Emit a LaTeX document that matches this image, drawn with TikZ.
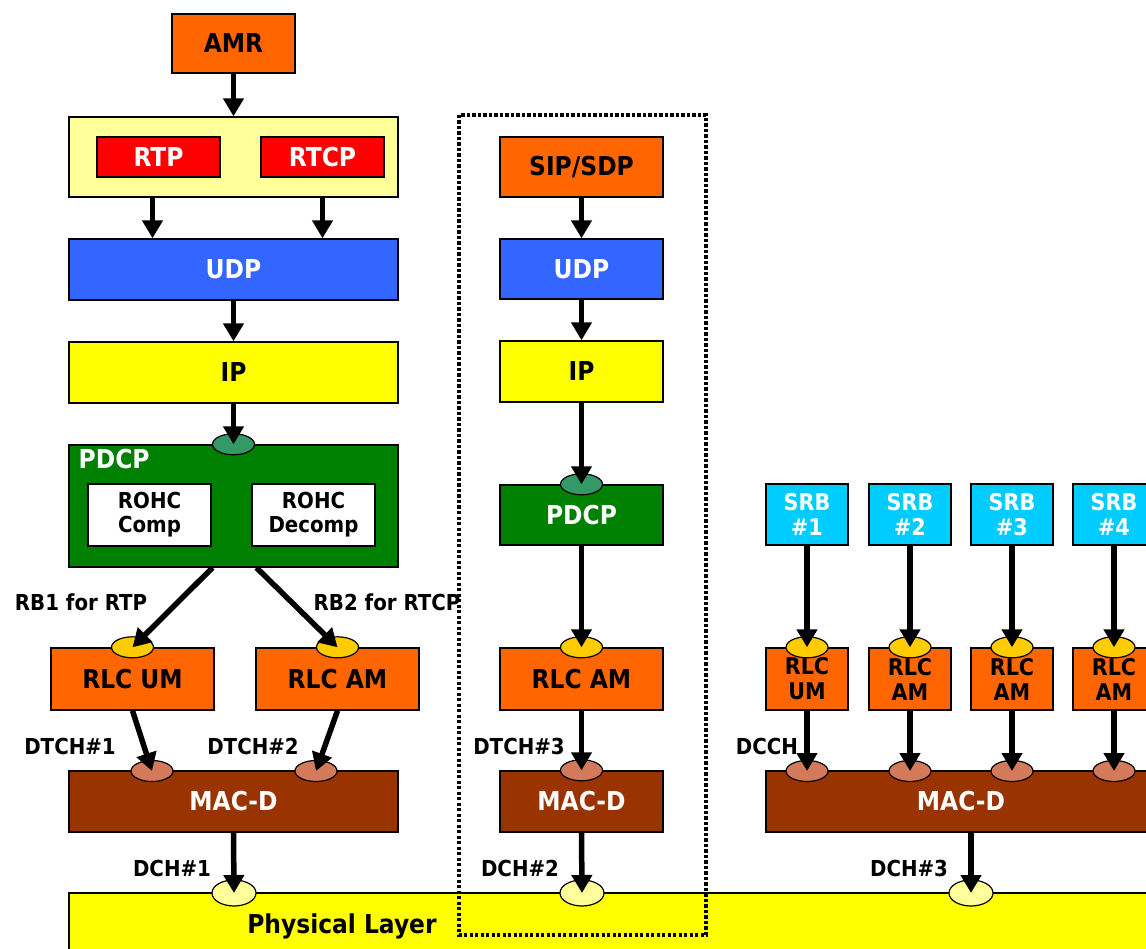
\documentclass[tikz,border=0pt]{standalone}
\usepackage{fontspec}
\setmainfont{DejaVu Sans Condensed}
\usetikzlibrary{arrows.meta,shapes.geometric}

\definecolor{amrorange}{HTML}{FF6600}
\definecolor{rtpyellow}{HTML}{FFFF99}
\definecolor{rtpred}{HTML}{FF0000}
\definecolor{udpblue}{HTML}{3366FF}
\definecolor{ipyellow}{HTML}{FFFF00}
\definecolor{pdcpgreen}{HTML}{008000}
\definecolor{pdcpport}{HTML}{339966}
\definecolor{rlcport}{HTML}{FFCC00}
\definecolor{macbrown}{HTML}{993300}
\definecolor{macport}{HTML}{D27A5A}
\definecolor{srbcyan}{HTML}{00CCFF}

\begin{document}
\begin{tikzpicture}[x=1pt, y=-1pt,
    layer/.style={draw, line width=1.4pt, rectangle, inner sep=0pt, align=center,
      font=\bfseries\fontsize{26}{30}\selectfont},
    small/.style={font=\bfseries\fontsize{22}{26}\selectfont},
    port/.style={draw, ellipse, line width=1.2pt, inner sep=0pt,
      minimum width=42pt, minimum height=21pt},
    flow/.style={line width=5.5pt, -{Triangle[length=18pt,width=20pt]}},
    lbl/.style={font=\bfseries\fontsize{22}{26}\selectfont}]
  \useasboundingbox (0,0) rectangle (1146,949);

  % physical layer
  \node [layer, fill=ipyellow, minimum width=1100pt, minimum height=64pt] (phy) at (619,925) {};
  \node [layer, draw=none] (phytext) at (342,926) {Physical Layer};

  % left stack: AMR over RTP/RTCP
  \node [layer, fill=amrorange, minimum width=123pt, minimum height=59pt] (amr) at (233.5,43.5) {AMR};
  \node [layer, fill=rtpyellow, minimum width=329pt, minimum height=80pt] (rtpgroup) at (233.5,157) {};
  \node [layer, fill=rtpred, text=white, minimum width=123pt, minimum height=40pt] (rtp) at (158.5,157) {RTP};
  \node [layer, fill=rtpred, text=white, minimum width=123pt, minimum height=40pt] (rtcp) at (322.5,157) {RTCP};
  \node [layer, fill=udpblue, text=white, minimum width=329pt, minimum height=61pt] (udpL) at (233.5,269.5) {UDP};
  \node [layer, fill=ipyellow, minimum width=329pt, minimum height=61pt] (ipL) at (233.5,372.5) {IP};
  \node [layer, fill=pdcpgreen, minimum width=329pt, minimum height=122pt] (pdcpL) at (233.5,506) {};
  \node [layer, text=white, anchor=north west, draw=none] (pdcpLtext) at (78,449) {PDCP};
  \node [layer, small, fill=white, minimum width=123pt, minimum height=62pt] (comp) at (149.5,515) {ROHC\\[-2pt]Comp};
  \node [layer, small, fill=white, minimum width=123pt, minimum height=62pt] (decomp) at (313.5,515) {ROHC\\[-2pt]Decomp};
  \node [layer, fill=amrorange, minimum width=163pt, minimum height=62pt] (rlcum) at (132.5,679) {RLC UM};
  \node [layer, fill=amrorange, minimum width=163pt, minimum height=62pt] (rlcam) at (337.5,679) {RLC AM};
  \node [layer, fill=macbrown, text=white, minimum width=329pt, minimum height=61pt] (macL) at (233.5,801.5) {MAC-D};

  % middle stack: signalling
  \node [layer, fill=amrorange, minimum width=163pt, minimum height=60pt] (sip) at (581.5,167) {SIP/SDP};
  \node [layer, fill=udpblue, text=white, minimum width=163pt, minimum height=60pt] (udpM) at (581.5,269) {UDP};
  \node [layer, fill=ipyellow, minimum width=163pt, minimum height=61pt] (ipM) at (581.5,371.5) {IP};
  \node [layer, fill=pdcpgreen, text=white, minimum width=163pt, minimum height=60pt] (pdcpM) at (581.5,515) {PDCP};
  \node [layer, fill=amrorange, minimum width=163pt, minimum height=62pt] (rlcM) at (581.5,679) {RLC AM};
  \node [layer, fill=macbrown, text=white, minimum width=163pt, minimum height=61pt] (macM) at (581.5,801.5) {MAC-D};

  % right stack: signalling radio bearers
  \node [layer, fill=macbrown, text=white, minimum width=390pt, minimum height=61pt] (macR) at (961,801.5) {MAC-D};
  \foreach \i/\x/\m in {1/807/UM, 2/910/AM, 3/1012/AM, 4/1114/AM} {
    \node [layer, small, font=\bfseries\fontsize{23}{25}\selectfont, fill=srbcyan, text=white,
      minimum width=82pt, minimum height=61pt] (srb\i) at (\x,514.5) {SRB\\\#\i};
    \node [layer, small, font=\bfseries\fontsize{23}{25}\selectfont, fill=amrorange,
      minimum width=82pt, minimum height=62pt] (rlc\i) at (\x,679) {RLC\\\m};
    \node [port, fill=rlcport] (rlcport\i) at (rlc\i.north) {};
    \node [port, fill=macport] (macport\i) at (\x,771) {};
  }

  % ports
  \node [port, fill=pdcpport] (pdcpLport) at (pdcpL.north) {};
  \node [port, fill=pdcpport] (pdcpMport) at (pdcpM.north) {};
  \node [port, fill=rlcport] (rlcumport) at (rlcum.north) {};
  \node [port, fill=rlcport] (rlcamport) at (rlcam.north) {};
  \node [port, fill=rlcport] (rlcMport) at (rlcM.north) {};
  \node [port, fill=macport] (macLport1) at (152,771) {};
  \node [port, fill=macport] (macLport2) at (316,771) {};
  \node [port, fill=macport] (macMport) at (macM.north) {};
  \node [port, fill=rtpyellow, minimum width=44pt, minimum height=26pt] (phyport1) at (234,893) {};
  \node [port, fill=rtpyellow, minimum width=44pt, minimum height=26pt] (phyport2) at (582,893) {};
  \node [port, fill=rtpyellow, minimum width=44pt, minimum height=26pt] (phyport3) at (971,893) {};

  % signalling frame
  \draw [line width=3.5pt, dash pattern=on 3.2pt off 2.3pt] (459,115) rectangle (706,935);

  % labels
  \node [lbl] (rb1) at (81,602) {RB1 for RTP};
  \node [lbl] (rb2) at (387,602) {RB2 for RTCP};
  \node [lbl] (dtch1) at (70,746) {DTCH\#1};
  \node [lbl] (dtch2) at (253,746) {DTCH\#2};
  \node [lbl] (dtch3) at (519,746) {DTCH\#3};
  \node [lbl] (dcch) at (767,746) {DCCH};
  \node [lbl] (dch1) at (172,868) {DCH\#1};
  \node [lbl] (dch2) at (520,868) {DCH\#2};
  \node [lbl] (dch3) at (909,868) {DCH\#3};

  % arrows
  \draw [flow] (amr.south) -- (rtpgroup.north);
  \draw [flow] ([xshift=-6pt]rtp.south |- rtpgroup.south) -- ([xshift=-6pt]rtp.south |- udpL.north);
  \draw [flow] (rtcp.south |- rtpgroup.south) -- (rtcp.south |- udpL.north);
  \draw [flow] (udpL) -- (ipL);
  \draw [flow] (ipL.south) -- (pdcpLport.center);
  \draw [flow] ([xshift=-21pt]pdcpL.south) -- (rlcumport.center);
  \draw [flow] ([xshift=23pt]pdcpL.south) -- (rlcamport.center);
  \draw [flow] (rlcum.south) -- (macLport1.center);
  \draw [flow] (rlcam.south) -- (macLport2.center);
  \draw [flow] (macL.south) -- (phyport1.center);

  \draw [flow] (sip) -- (udpM);
  \draw [flow] (udpM) -- (ipM);
  \draw [flow] (ipM.south) -- (pdcpMport.center);
  \draw [flow] (pdcpM.south) -- (rlcMport.center);
  \draw [flow] (rlcM.south) -- (macMport.center);
  \draw [flow] (macM.south) -- (phyport2.center);

  \foreach \i in {1,...,4} {
    \draw [flow] (srb\i.south) -- (rlcport\i.center);
    \draw [flow] (rlc\i.south) -- (macport\i.center);
  }
  \draw [flow] (macR.south -| phyport3) -- (phyport3.center);
\end{tikzpicture}
\end{document}
